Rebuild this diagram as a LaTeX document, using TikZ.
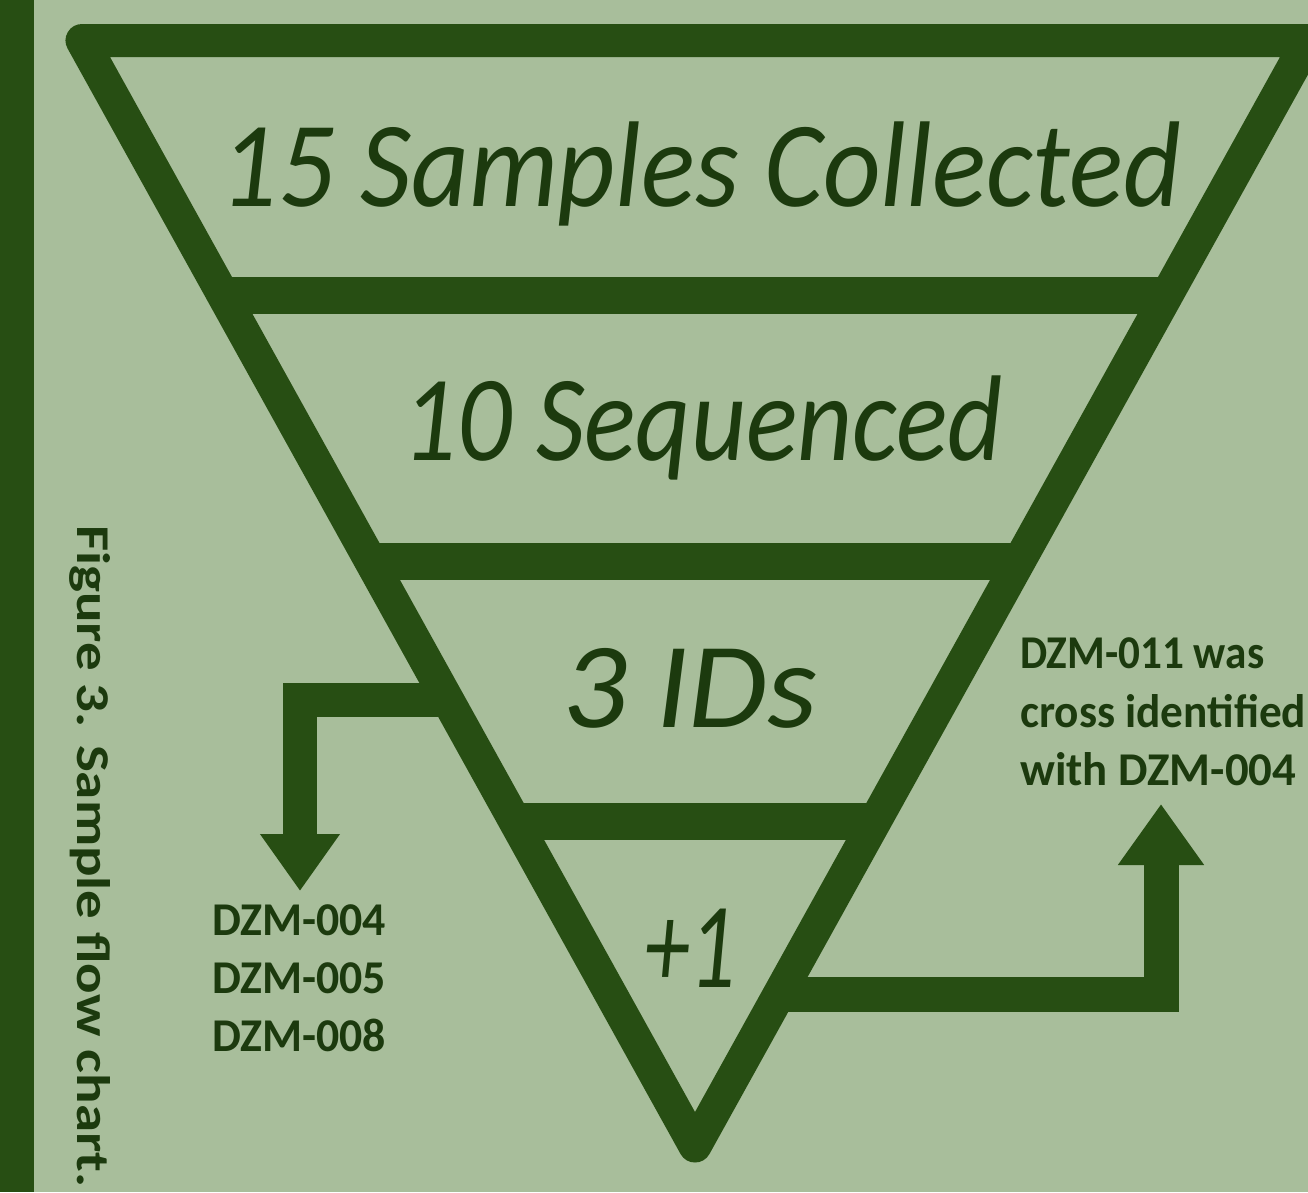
\documentclass[tikz,border=0pt]{standalone}
\usepackage{fontspec}
\setmainfont{Carlito}
\usepackage{graphicx}
\usetikzlibrary{arrows.meta,calc}
\definecolor{bg}{HTML}{A8BE9B}
\definecolor{ln}{HTML}{274E13}
\definecolor{tx}{HTML}{1C3A0E}
\newcommand{\fitw}[2]{\resizebox{#1}{\height}{#2}}
\begin{document}
\begin{tikzpicture}[x=1pt,y=-1pt,
  funnel/.style={draw=ln,line width=33pt,line join=round},
  band/.style={draw=ln,line width=37pt},
  conn/.style={draw=ln,line join=miter},
  big/.style={text=tx,inner sep=0pt,anchor=base,font=\fontsize{122}{122}\selectfont\itshape},
  note/.style={text=tx,inner sep=0pt,anchor=base west,font=\fontsize{47}{58}\selectfont\bfseries},
]
\useasboundingbox (0,0) rectangle (1308,1192);
\fill[bg] (0,0) rectangle (1308,1192);
\fill[ln] (0,0) rectangle (34,1192);

\coordinate (TL) at (82,40.5);
\coordinate (TR) at (1308,40.5);
\coordinate (B) at (695,1146);

% bands
\coordinate (b1L) at ($(TL)!0.2311!(B)$);
\coordinate (b1R) at ($(TR)!0.2311!(B)$);
\coordinate (b2L) at ($(TL)!0.4713!(B)$);
\coordinate (b2R) at ($(TR)!0.4713!(B)$);
\coordinate (b3L) at ($(TL)!0.7065!(B)$);
\coordinate (b3R) at ($(TR)!0.7065!(B)$);
\draw[band] (b1L) -- (b1R);
\draw[band] (b2L) -- (b2R);
\draw[band] (b3L) -- (b3R);

% connectors
\coordinate (aL) at ($(TL)!0.5961!(B)$);
\coordinate (tipL) at (300,891);
\coordinate (aR) at ($(TR)!0.8630!(B)$);
\coordinate (tipR) at (1161,804);
\draw[conn,line width=34pt,-{Triangle[width=76pt,length=57pt]}] (aL) -| (tipL);
\draw[conn,line width=35pt,-{Triangle[width=82pt,length=61pt]}] (aR) -| (tipR);

% funnel outline
\draw[funnel] (TL) -- (TR) -- (B) -- cycle;

% level labels
\node[big] (t1) at (701,206) {\fitw{960pt}{15 Samples Collected}};
\node[big] (t2) at (703,460) {\fitw{600pt}{10 Sequenced}};
\node[big] (t3) at (690,727) {\fitw{255pt}{3 IDs}};
\node[big] (t4) at (690,987) {\fitw{92pt}{+1}};

% side notes
\node[note] (l1) at (212,935) {\fitw{174pt}{DZM-004}};
\node[note] (l2) at (212,993) {\fitw{174pt}{DZM-005}};
\node[note] (l3) at (212,1051) {\fitw{174pt}{DZM-008}};
\node[note] (r1) at (1020,668) {\fitw{244pt}{DZM-011 was}};
\node[note] (r2) at (1020,727) {\fitw{286pt}{cross identified}};
\node[note] (r3) at (1020,785) {\fitw{276pt}{with DZM-004}};

% caption
\node[note,rotate=-90] (cap) at (77,525) {\fitw{662pt}{Figure 3. Sample flow chart.}};
\end{tikzpicture}
\end{document}
